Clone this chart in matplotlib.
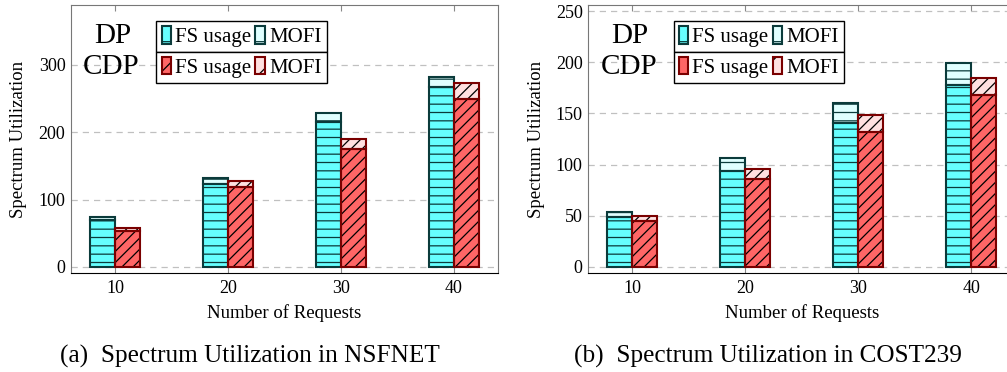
import numpy as np
import matplotlib
matplotlib.use('Agg')
from matplotlib import pyplot as plt
from matplotlib.patches import Patch
from matplotlib.legend_handler import HandlerTuple

plt.rcParams['font.family'] = ['Liberation Serif', 'DejaVu Serif']
plt.rcParams['hatch.linewidth'] = 0.9

requests = [10, 20, 30, 40]

# NSFNET
nsf_dp_fs = [69, 123, 216, 267]
nsf_dp_mofi = [5, 9, 13, 15]
nsf_cdp_fs = [53, 118, 175, 250]
nsf_cdp_mofi = [5, 9, 15, 23]

# COST239
cost_dp_fs = [49, 94, 141, 178]
cost_dp_mofi = [5, 12, 19, 21]
cost_cdp_fs = [45, 86, 132, 168]
cost_cdp_mofi = [5, 10, 16, 17]

dp_fill = '#66ffff'
dp_light = '#e0ffff'
dp_edge = '#0b3b3b'
cdp_fill = '#ff6666'
cdp_light = '#ffe0e0'
cdp_edge = '#7a0000'

w = 2.2
lw = 1.5


def stacked(ax, x, fs, mofi, fill, light, hatch_col, edge, hatch):
    x = np.array(x, dtype=float)
    fs = np.array(fs)
    mofi = np.array(mofi)
    ax.bar(x, fs, w, color=fill, edgecolor=hatch_col, linewidth=0, hatch=hatch, zorder=3)
    ax.bar(x, fs, w, fill=False, edgecolor=edge, linewidth=lw, zorder=4)
    ax.bar(x, mofi, w, bottom=fs, color=light, edgecolor=hatch_col, linewidth=0, hatch=hatch, zorder=3)
    ax.bar(x, mofi, w, bottom=fs, fill=False, edgecolor=edge, linewidth=lw, zorder=4)


def panel(ax, dp_fs, dp_mofi, cdp_fs, cdp_mofi, ylim, yticks):
    x = np.array(requests, dtype=float)
    stacked(ax, x - w / 2, dp_fs, dp_mofi, dp_fill, dp_light, dp_edge, dp_edge, '--')
    stacked(ax, x + w / 2, cdp_fs, cdp_mofi, cdp_fill, cdp_light, 'black', cdp_edge, '///')
    ax.set_xlim(6.1, 43.9)
    ax.set_ylim(*ylim)
    ax.set_xticks(requests)
    ax.set_yticks(yticks)
    ax.tick_params(axis='both', labelsize=13, direction='in', color='#888888', length=4)
    ax.tick_params(axis='x', top=True, pad=5)
    ax.tick_params(axis='y', length=0, pad=4)
    ax.grid(axis='y', linestyle=(0, (5, 4)), color='#c0c0c0', linewidth=0.9, zorder=0)
    for s in ['top', 'right', 'left']:
        ax.spines[s].set_color('#777777')
    ax.spines['bottom'].set_color('black')
    ax.set_xlabel('Number of Requests', fontsize=13.5, labelpad=5)
    ax.set_ylabel('Spectrum Utilization', fontsize=13.5, labelpad=8)

    h_dp = [Patch(facecolor=dp_fill, edgecolor=dp_edge, hatch='-', linewidth=1.5),
            Patch(facecolor=dp_light, edgecolor=dp_edge, hatch='-', linewidth=1.5)]
    h_cdp = [(Patch(facecolor=cdp_fill, edgecolor='black', hatch='/', linewidth=0),
              Patch(fill=False, edgecolor=cdp_edge, linewidth=1.5)),
             (Patch(facecolor=cdp_light, edgecolor='black', hatch='/', linewidth=0),
              Patch(fill=False, edgecolor=cdp_edge, linewidth=1.5))]
    labels = ['FS usage', 'MOFI']
    common = dict(ncol=2, fontsize=15, frameon=True, fancybox=False, edgecolor='black',
                  framealpha=1, handlelength=0.45, handleheight=0.9, handletextpad=0.2,
                  columnspacing=0.2, borderpad=0.25, borderaxespad=0,
                  handler_map={tuple: HandlerTuple(ndivide=1, pad=0)})
    leg1 = ax.legend(h_dp, labels, loc='upper left', bbox_to_anchor=(0.2, 0.94), **common)
    leg1.get_frame().set_linewidth(1.0)
    ax.add_artist(leg1)
    leg2 = ax.legend(h_cdp, labels, loc='upper left', bbox_to_anchor=(0.2, 0.825), **common)
    leg2.get_frame().set_linewidth(1.0)
    ax.text(0.097, 0.885, 'DP', transform=ax.transAxes, fontsize=21, ha='center', va='center', zorder=6)
    ax.text(0.095, 0.77, 'CDP', transform=ax.transAxes, fontsize=21, ha='center', va='center', zorder=6)


fig = plt.figure(figsize=(10.07, 3.72), dpi=100)
ax1 = fig.add_axes([0.0705, 0.2661, 0.424, 0.7204])
ax2 = fig.add_axes([0.5842, 0.2661, 0.424, 0.7204])

panel(ax1, nsf_dp_fs, nsf_dp_mofi, nsf_cdp_fs, nsf_cdp_mofi, (-9, 389), [0, 100, 200, 300])
panel(ax2, cost_dp_fs, cost_dp_mofi, cost_cdp_fs, cost_cdp_mofi, (-5.9, 255.9), [0, 50, 100, 150, 200, 250])

fig.text(250 / 1007, 0.042, '(a)  Spectrum Utilization in NSFNET', fontsize=18.2, ha='center', va='center')
fig.text(768 / 1007, 0.042, '(b)  Spectrum Utilization in COST239', fontsize=18.2, ha='center', va='center')

fig.savefig('out.png', dpi=100)
